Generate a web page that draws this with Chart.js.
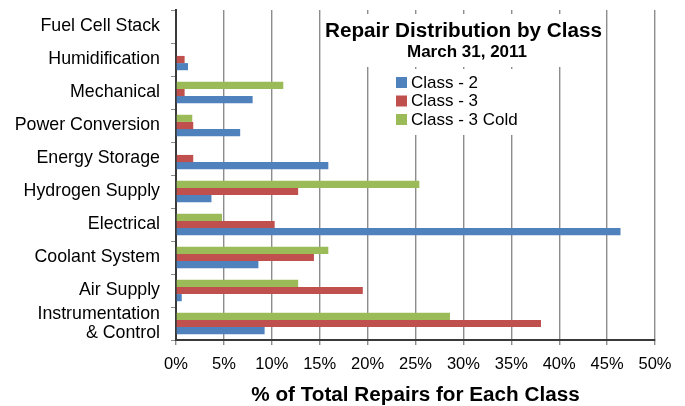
<!DOCTYPE html>
<html>
<head>
<meta charset="utf-8">
<script src="https://cdn.jsdelivr.net/npm/chart.js@4.4.1/dist/chart.umd.min.js"></script>
<style>
  body { margin: 0; background: #fff; }
  canvas { display: block; }
</style>
</head>
<body>
<canvas id="chart" width="685" height="406"></canvas>
<script>
// values (% of total repairs)
const categories = ['Fuel Cell Stack', 'Humidification', 'Mechanical', 'Power Conversion', 'Energy Storage',
    'Hydrogen Supply', 'Electrical', 'Coolant System', 'Air Supply', ['Instrumentation', '& Control']];
const class2 = [0, 1.25, 8.0, 6.7, 15.9, 3.7, 46.4, 8.6, 0.6, 9.25];
const class3 = [0, 0.9, 0.9, 1.8, 1.8, 12.75, 10.3, 14.4, 19.5, 38.1];
const class3Cold = [0, 0, 11.2, 1.7, 0, 25.4, 4.8, 15.9, 12.75, 28.6];
const xTicks = [0, 5, 10, 15, 20, 25, 30, 35, 40, 45, 50];

const chartTitle = 'Repair Distribution by Class';
const chartSubtitle = 'March 31, 2011';
const FONT = "'Liberation Sans', Arial, sans-serif";

// title + legend sit inside the plot area on white boxes that cut the gridlines
const insideBoxes = {
    id: 'insideBoxes',
    beforeDatasetsDraw(chart) {
        const ctx = chart.ctx;
        ctx.save();
        ctx.fillStyle = '#fff';
        ctx.fillRect(321, 14, 285, 53);
        ctx.fillRect(369, 69, 189, 66);
        ctx.restore();
    },
    afterDraw(chart) {
        const ctx = chart.ctx;
        ctx.save();
        ctx.fillStyle = '#000';
        ctx.textAlign = 'center';
        ctx.textBaseline = 'middle';
        ctx.font = 'bold 20.7px ' + FONT;
        ctx.fillText(chartTitle, 463.5, 31);
        ctx.font = 'bold 17px ' + FONT;
        ctx.fillText(chartSubtitle, 467, 52);

        ctx.textAlign = 'left';
        ctx.font = '17px ' + FONT;
        const ds = chart.data.datasets.slice().reverse();
        ds.forEach((d, i) => {
            const y = 82 + i * 18.5;
            ctx.fillStyle = d.backgroundColor;
            ctx.fillRect(396, y - 5, 11, 11);
            ctx.fillStyle = '#000';
            ctx.fillText(d.label, 411, y + 1);
        });
        ctx.restore();
    }
};

const ctx = document.getElementById('chart').getContext('2d');
const myChart = new Chart(ctx, {
    type: 'bar',
    data: {
        labels: categories,
        datasets: [{
            label: 'Class - 3 Cold',
            data: class3Cold,
            backgroundColor: '#9BBB59',
        },
        {
            label: 'Class - 3',
            data: class3,
            backgroundColor: '#C0504D',
        },
        {
            label: 'Class - 2',
            data: class2,
            backgroundColor: '#4F81BD',
        }],
    },
    options: {
        indexAxis: 'y',
        responsive: false,
        animation: false,
        devicePixelRatio: 1,
        layout: {
            padding: { top: 10, right: 30, left: 0, bottom: 0 }
        },
        datasets: {
            bar: {
                categoryPercentage: 0.65,
                barPercentage: 1.0,
                borderWidth: 0,
            }
        },
        plugins: {
            legend: { display: false },
            tooltip: { enabled: false },
        },
        scales: {
            x: {
                min: 0,
                max: 50,
                afterFit: function(scale) { scale.height = 66; },
                afterBuildTicks: function(scale) {
                    scale.ticks = xTicks.map(v => ({ value: v }));
                },
                grid: {
                    color: '#8c8c8c',
                    lineWidth: 1.4,
                    tickLength: 5,
                },
                border: { color: '#3a3a3a', width: 2 },
                ticks: {
                    color: '#000',
                    padding: 10,
                    maxRotation: 0,
                    font: { family: FONT, size: 16.5 },
                    callback: function(value) {
                        return value + '%';
                    }
                },
                title: {
                    display: true,
                    text: '% of Total Repairs for Each Class',
                    color: '#000',
                    padding: { top: 0, bottom: 0 },
                    font: { family: FONT, size: 20.7, weight: 'bold', lineHeight: 1.0 }
                }
            },
            y: {
                afterFit: function(scale) {
                    scale.width = 176;
                    scale.paddingTop = 0;
                    scale.paddingBottom = 0;
                },
                grid: {
                    drawOnChartArea: false,
                    offset: true,
                    color: '#8c8c8c',
                    tickLength: 5,
                },
                border: { color: '#3a3a3a', width: 2 },
                ticks: {
                    color: '#000',
                    padding: 11,
                    autoSkip: false,
                    font: { family: FONT, size: 17.8, lineHeight: 1.08 },
                }
            }
        }
    },
    plugins: [insideBoxes]
});
</script>
</body>
</html>
